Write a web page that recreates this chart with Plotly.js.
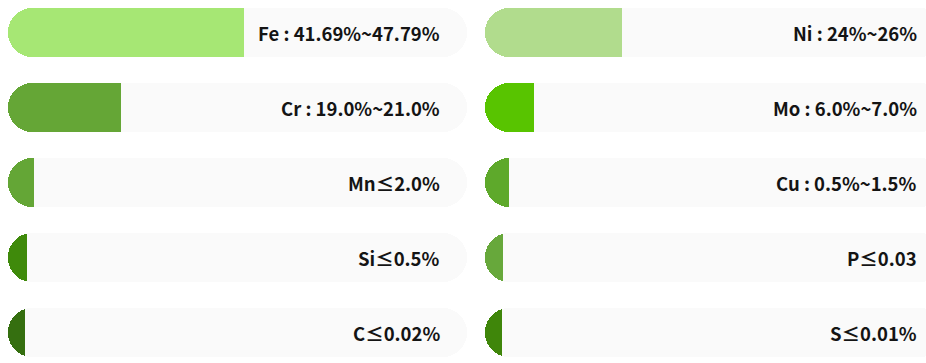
<!DOCTYPE html>
<html>
<head>
<meta charset="utf-8">
<script src="https://cdn.plot.ly/plotly-3.0.1.min.js"></script>
<style>
  html, body { margin: 0; padding: 0; background: #ffffff; }
  #chart { width: 926px; height: 363px; }
</style>
</head>
<body>
<div id="chart"></div>
<script>
// Left column
const leftLabels = ["Fe : 41.69%~47.79%", "Cr : 19.0%~21.0%", "Mn≤2.0%", "Si≤0.5%", "C≤0.02%"];
const leftValues = [51.4, 24.6, 5.7, 4.1, 3.7];
const leftColors = ["#a6e774", "#65a636", "#64a636", "#3f8a0b", "#356f10"];
// Right column
const rightLabels = ["Ni : 24%~26%", "Mo : 6.0%~7.0%", "Cu : 0.5%~1.5%", "P≤0.03", "S≤0.01%"];
const rightValues = [29.8, 10.7, 5.2, 3.9, 3.7];
const rightColors = ["#b1dc8d", "#58c400", "#5ea92b", "#67a83b", "#3f860a"];
const rows = [0, 1, 2, 3, 4];
const trackMax = 100;
const labelPos = 94.34;

const barW = 0.6533;
const trackColor = "#fafafa";

function trackTrace(xa, ya) {
  return { type: "bar", orientation: "h", y: rows, x: rows.map(() => trackMax), base: rows.map(() => 0),
    width: barW, marker: { color: trackColor, cornerradius: "50%" }, xaxis: xa, yaxis: ya, hoverinfo: "skip" };
}
// fills are drawn on a reversed overlay axis: an invisible spacer from the track end,
// then the coloured part, so that only the left tip gets rounded
function fillTraces(values, colors, xa, ya) {
  return [
    { type: "bar", orientation: "h", y: rows, x: values.map(v => trackMax - v),
      width: barW, marker: { color: "rgba(0,0,0,0)", cornerradius: "50%" }, xaxis: xa, yaxis: ya, hoverinfo: "skip" },
    { type: "bar", orientation: "h", y: rows, x: values,
      width: barW, marker: { color: colors, cornerradius: "50%" }, xaxis: xa, yaxis: ya, hoverinfo: "skip" }
  ];
}

const data = [
  trackTrace("x", "y"),
  trackTrace("x2", "y2"),
  ...fillTraces(leftValues, leftColors, "x3", "y"),
  ...fillTraces(rightValues, rightColors, "x4", "y2")
];

const W = 926, H = 363;
const yRange = [(H - 32.5) / 75, -32.5 / 75];
const ax = { showgrid: false, zeroline: false, showticklabels: false, showline: false, fixedrange: true };
const rightSpan = trackMax * (W - 485) / 459;

const font = { family: "Noto Sans CJK KR, Noto Sans, sans-serif", size: 18.5, color: "#141414", weight: "bold" };
const annotations = [];
leftLabels.forEach((t, i) => annotations.push({ xref: "x", yref: "y", x: labelPos, y: rows[i], text: t,
  xanchor: "right", yanchor: "middle", showarrow: false, borderpad: 0, font: font }));
rightLabels.forEach((t, i) => annotations.push({ xref: "x2", yref: "y2", x: labelPos, y: rows[i], text: t,
  xanchor: "right", yanchor: "middle", showarrow: false, borderpad: 0, font: font }));

const layout = {
  width: W, height: H,
  margin: { l: 0, r: 0, t: 0, b: 0 },
  paper_bgcolor: "#ffffff", plot_bgcolor: "rgba(0,0,0,0)",
  barmode: "stack",
  showlegend: false,
  xaxis: Object.assign({}, ax, { domain: [8 / W, 467 / W], range: [0, trackMax], anchor: "y" }),
  xaxis2: Object.assign({}, ax, { domain: [485 / W, 1], range: [0, rightSpan], anchor: "y2" }),
  xaxis3: Object.assign({}, ax, { overlaying: "x", range: [trackMax, 0], anchor: "y" }),
  xaxis4: Object.assign({}, ax, { overlaying: "x2", range: [trackMax, trackMax - rightSpan], anchor: "y2" }),
  yaxis: Object.assign({}, ax, { domain: [0, 1], range: yRange, anchor: "x" }),
  yaxis2: Object.assign({}, ax, { domain: [0, 1], range: yRange, anchor: "x2" }),
  annotations: annotations
};

Plotly.newPlot("chart", data, layout, { staticPlot: true, displayModeBar: false });
</script>
</body>
</html>
